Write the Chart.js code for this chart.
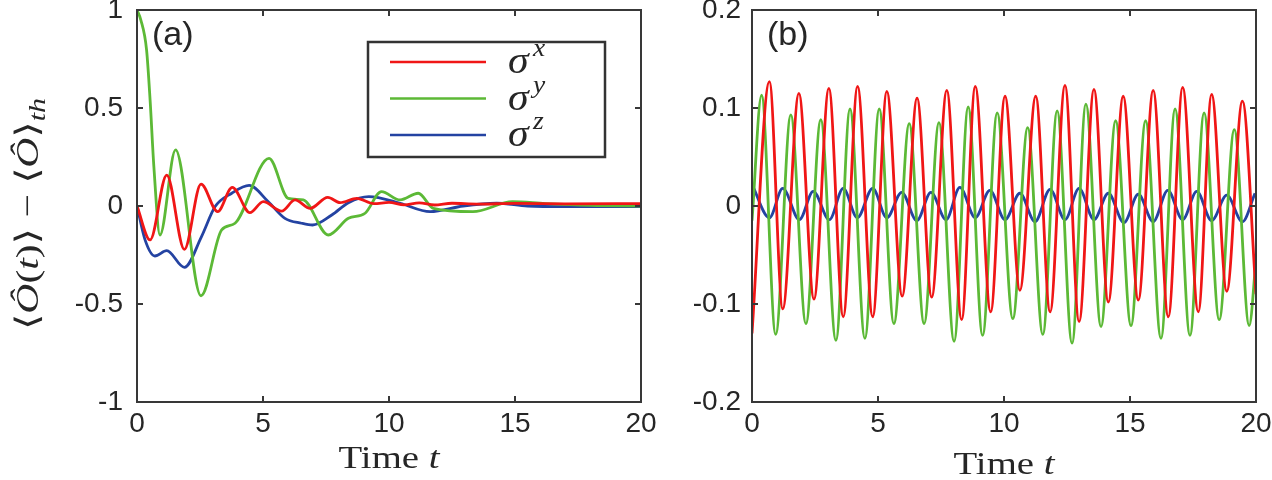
<!DOCTYPE html>
<html>
<head>
<meta charset="utf-8">
<script src="https://cdn.jsdelivr.net/npm/chart.js@4/dist/chart.umd.min.js"></script>
<style>
body { margin: 0; background: #fff; }
#wrap { position: relative; width: 1272px; height: 480px; }
#wrap canvas { position: absolute; top: 0; }
</style>
</head>
<body>
<div id="wrap">
  <canvas id="chartA" width="660" height="480" style="left:0"></canvas>
  <canvas id="chartB" width="612" height="480" style="left:660px"></canvas>
</div>
<script>
// ---- panel (a) ----
const xTicks = [0, 5, 10, 15, 20];
const yTicksA = [-1, -0.5, 0, 0.5, 1];
const yTicksB = [-0.2, -0.1, 0, 0.1, 0.2];

const sxA_t = [0, 0.52, 1.18, 1.88, 2.54, 3.2, 3.78, 4.48, 5.01, 5.74, 6.27, 6.87, 7.57, 8.06, 8.72, 9.4, 10.0, 10.6, 11.2, 11.8, 12.5, 13.5, 15, 17, 20];
const sxA_v = [0, -0.173, 0.158, -0.221, 0.112, -0.029, 0.095, -0.034, 0.022, -0.026, 0.031, -0.012, 0.044, 0.017, 0.039, 0.012, 0.018, 0.006, 0.016, 0.005, 0.014, 0.01, 0.013, 0.011, 0.012];

const syA_t = [0, 0.15, 0.38, 0.52, 0.67, 0.91, 1.53, 2.54, 3.36, 3.89, 5.24, 6.0, 6.6, 7.59, 8.39, 9.05, 9.7, 10.44, 11.16, 11.76, 13.33, 14.9, 16.2, 18, 20];
const syA_v = [1, 0.95, 0.796, 0.54, 0.2, -0.148, 0.286, -0.458, -0.122, -0.088, 0.243, 0.039, 0.031, -0.148, -0.063, -0.037, 0.073, 0.031, 0.065, -0.012, -0.029, 0.022, 0.012, 0.003, 0.0];

const szA_t = [0, 0.32, 0.71, 1.18, 1.88, 2.56, 3.1, 3.76, 4.45, 5.21, 5.87, 6.53, 6.97, 7.73, 8.39, 9.2, 10.44, 11.63, 12.94, 14.27, 15.5, 17, 20];
const szA_v = [0, -0.173, -0.255, -0.228, -0.313, -0.156, -0.003, 0.065, 0.105, 0.022, -0.063, -0.088, -0.097, -0.046, 0.017, 0.048, 0.014, -0.029, 0, 0.014, 0.0, -0.003, -0.003];

// ---- panel (b) ----
const sxB_t = [0, 0.69, 1.22, 1.86, 2.46, 3.05, 3.62, 4.19, 4.79, 5.35, 5.96, 6.55, 7.13, 7.73, 8.32, 8.86, 9.47, 10.04, 10.63, 11.26, 11.83, 12.42, 12.98, 13.57, 14.14, 14.73, 15.33, 15.92, 16.52, 17.09, 17.71, 18.24, 18.84, 19.46, 20];
const sxB_v = [-0.13, 0.127, -0.105, 0.115, -0.095, 0.120, -0.113, 0.122, -0.113, 0.117, -0.092, 0.110, -0.093, 0.118, -0.116, 0.122, -0.108, 0.112, -0.086, 0.112, -0.108, 0.123, -0.118, 0.119, -0.098, 0.112, -0.096, 0.118, -0.113, 0.121, -0.108, 0.114, -0.087, 0.107, -0.09];

const syB_t = [0, 0.38, 0.94, 1.54, 2.14, 2.73, 3.33, 3.89, 4.48, 5.05, 5.63, 6.24, 6.83, 7.42, 8.02, 8.58, 9.15, 9.73, 10.35, 10.94, 11.54, 12.11, 12.70, 13.25, 13.85, 14.43, 15.04, 15.62, 16.23, 16.79, 17.38, 17.94, 18.54, 19.14, 19.73, 20];
const syB_v = [-0.015, 0.113, -0.131, 0.093, -0.120, 0.088, -0.137, 0.099, -0.135, 0.099, -0.120, 0.084, -0.120, 0.085, -0.138, 0.101, -0.132, 0.095, -0.115, 0.080, -0.131, 0.097, -0.140, 0.104, -0.123, 0.087, -0.122, 0.087, -0.135, 0.099, -0.132, 0.095, -0.116, 0.078, -0.122, -0.055];

const szB_t = [0, 0.69, 1.22, 1.88, 2.43, 3.07, 3.62, 4.18, 4.79, 5.35, 5.94, 6.54, 7.1, 7.70, 8.25, 8.86, 9.44, 10.04, 10.63, 11.23, 11.83, 12.42, 12.98, 13.57, 14.14, 14.76, 15.33, 15.92, 16.5, 17.09, 17.65, 18.24, 18.84, 19.46, 19.96];
const szB_v = [0.022, -0.012, 0.018, -0.014, 0.015, -0.014, 0.018, -0.012, 0.018, -0.012, 0.014, -0.015, 0.014, -0.014, 0.019, -0.012, 0.016, -0.014, 0.013, -0.016, 0.017, -0.014, 0.018, -0.014, 0.013, -0.017, 0.012, -0.016, 0.016, -0.014, 0.015, -0.015, 0.011, -0.016, 0.013];

const RED = "#f01616";
const GREEN = "#5cb936";
const BLUE = "#2443a2";
const INK = "#262626";
const SANS = '"Liberation Sans", Arial, sans-serif';
const SERIF = '"Liberation Serif", "DejaVu Serif", serif';

function pts(ts, vs) {
    return ts.map((t, i) => ({ x: t, y: vs[i] }));
}

// draws a row of text pieces [text, font, dy, dx], optionally stretched sideways
function drawRuns(ctx, parts, x, y, align, sx) {
    sx = sx || 1;
    let w = 0;
    parts.forEach(p => { ctx.font = p[1]; w += ctx.measureText(p[0]).width + (p[3] || 0); });
    ctx.save();
    ctx.translate(x, y);
    ctx.scale(sx, 1);
    let cx = align === "center" ? -w / 2 : 0;
    parts.forEach(p => {
        ctx.font = p[1];
        cx += p[3] || 0;
        ctx.fillText(p[0], cx, p[2] || 0);
        cx += ctx.measureText(p[0]).width;
    });
    ctx.restore();
}

// MATLAB style box, inward ticks, panel label, legend, axis titles
const decor = {
    id: "decor",
    afterDatasetsDraw(chart, args, opts) {
        const ctx = chart.ctx;
        const a = chart.chartArea;
        const xs = chart.scales.x, ys = chart.scales.y;
        ctx.save();
        ctx.strokeStyle = "#383838";
        ctx.lineWidth = 2;
        ctx.strokeRect(a.left, a.top, a.right - a.left, a.bottom - a.top);
        ctx.beginPath();
        xs.ticks.forEach(tk => {
            const p = xs.getPixelForValue(tk.value);
            ctx.moveTo(p, a.bottom); ctx.lineTo(p, a.bottom - 6);
            ctx.moveTo(p, a.top); ctx.lineTo(p, a.top + 6);
        });
        ys.ticks.forEach(tk => {
            const p = ys.getPixelForValue(tk.value);
            ctx.moveTo(a.left, p); ctx.lineTo(a.left + 6, p);
            ctx.moveTo(a.right, p); ctx.lineTo(a.right - 6, p);
        });
        ctx.stroke();

        ctx.fillStyle = INK;
        ctx.textBaseline = "alphabetic";
        ctx.font = "34px " + SANS;
        ctx.fillText(opts.label, a.left + 15, a.top + 35);

        // x title
        const cx = (a.left + a.right) / 2;
        drawRuns(ctx, [["Time ", "31px " + SERIF], ["t", "italic 31px " + SERIF]], cx, opts.xTitleY, "center", 1.25);

        if (opts.legend) {
            const lx = a.left + 231, ly = a.top + 32;
            ctx.strokeStyle = "#333";
            ctx.lineWidth = 2.5;
            ctx.fillStyle = "#fff";
            ctx.fillRect(lx, ly, 237, 115);
            ctx.strokeRect(lx, ly, 237, 115);
            const subs = ["x", "y", "z"];
            chart.data.datasets.forEach((ds, i) => {
                const yy = ly + 20 + i * 36.5;
                ctx.strokeStyle = ds.borderColor;
                ctx.lineWidth = 2.5;
                ctx.beginPath();
                ctx.moveTo(lx + 22, yy); ctx.lineTo(lx + 118, yy);
                ctx.stroke();
                ctx.fillStyle = INK;
                drawRuns(ctx, [["σ", "italic 38px " + SERIF, 11], [subs[i], "italic 25px " + SERIF, -6, 4]], lx + 140, yy, "left", 1.1);
            });
        }

        if (opts.yTitle) {
            ctx.save();
            ctx.translate(0, 214);
            ctx.rotate(-Math.PI / 2);
            ctx.fillStyle = INK;
            const f = "32px " + SERIF, fi = "italic 32px " + SERIF, fs = "italic 23px " + SERIF;
            drawRuns(ctx, [["⟨", f], ["Ô", fi], ["(", f], ["t", fi], [")⟩ − ⟨", f], ["Ô", fi], ["⟩", f], ["th", fs, 7]], 0, 38, "center", 1.3);
            ctx.restore();
        }
        ctx.restore();
    }
};

function makePanel(id, series, yMin, yMax, yAxisWidth, padRight, tickPad, decorOpts) {
    const colors = [RED, GREEN, BLUE];
    return new Chart(document.getElementById(id), {
        type: "line",
        data: {
            datasets: series.map((s, i) => ({
                data: s,
                borderColor: colors[i],
                borderWidth: 2.8,
                pointRadius: 0,
                cubicInterpolationMode: "monotone",
                fill: false
            }))
        },
        options: {
            responsive: false,
            animation: false,
            layout: { padding: { top: 10, right: padRight, bottom: 0, left: 0 } },
            plugins: { legend: { display: false }, tooltip: { enabled: false }, decor: decorOpts },
            scales: {
                x: {
                    type: "linear",
                    min: 0, max: 20,
                    afterBuildTicks: s => { s.ticks = xTicks.map(v => ({ value: v })); },
                    afterFit: s => { s.height = 78; s.paddingLeft = 0; s.paddingRight = 0; },
                    grid: { display: false, drawTicks: false },
                    border: { display: false },
                    ticks: { color: INK, font: { family: SANS, size: 28 }, padding: 5, maxRotation: 0, callback: v => String(v) }
                },
                y: {
                    min: yMin, max: yMax,
                    afterBuildTicks: s => { s.ticks = (yMax > 0.5 ? yTicksA : yTicksB).map(v => ({ value: v })); },
                    afterFit: s => { s.width = yAxisWidth; s.paddingTop = 0; s.paddingBottom = 0; },
                    grid: { display: false, drawTicks: false },
                    border: { display: false },
                    ticks: { color: INK, font: { family: SANS, size: 28 }, padding: tickPad, callback: v => String(v) }
                }
            }
        },
        plugins: [decor]
    });
}

makePanel("chartA", [pts(sxA_t, sxA_v), pts(syA_t, syA_v), pts(szA_t, szA_v)],
    -1, 1, 137, 19, 14, { label: "(a)", legend: true, yTitle: true, xTitleY: 468 });
makePanel("chartB", [pts(sxB_t, sxB_v), pts(syB_t, syB_v), pts(szB_t, szB_v)],
    -0.2, 0.2, 92, 16, 11, { label: "(b)", legend: false, yTitle: false, xTitleY: 474 });
</script>
</body>
</html>
